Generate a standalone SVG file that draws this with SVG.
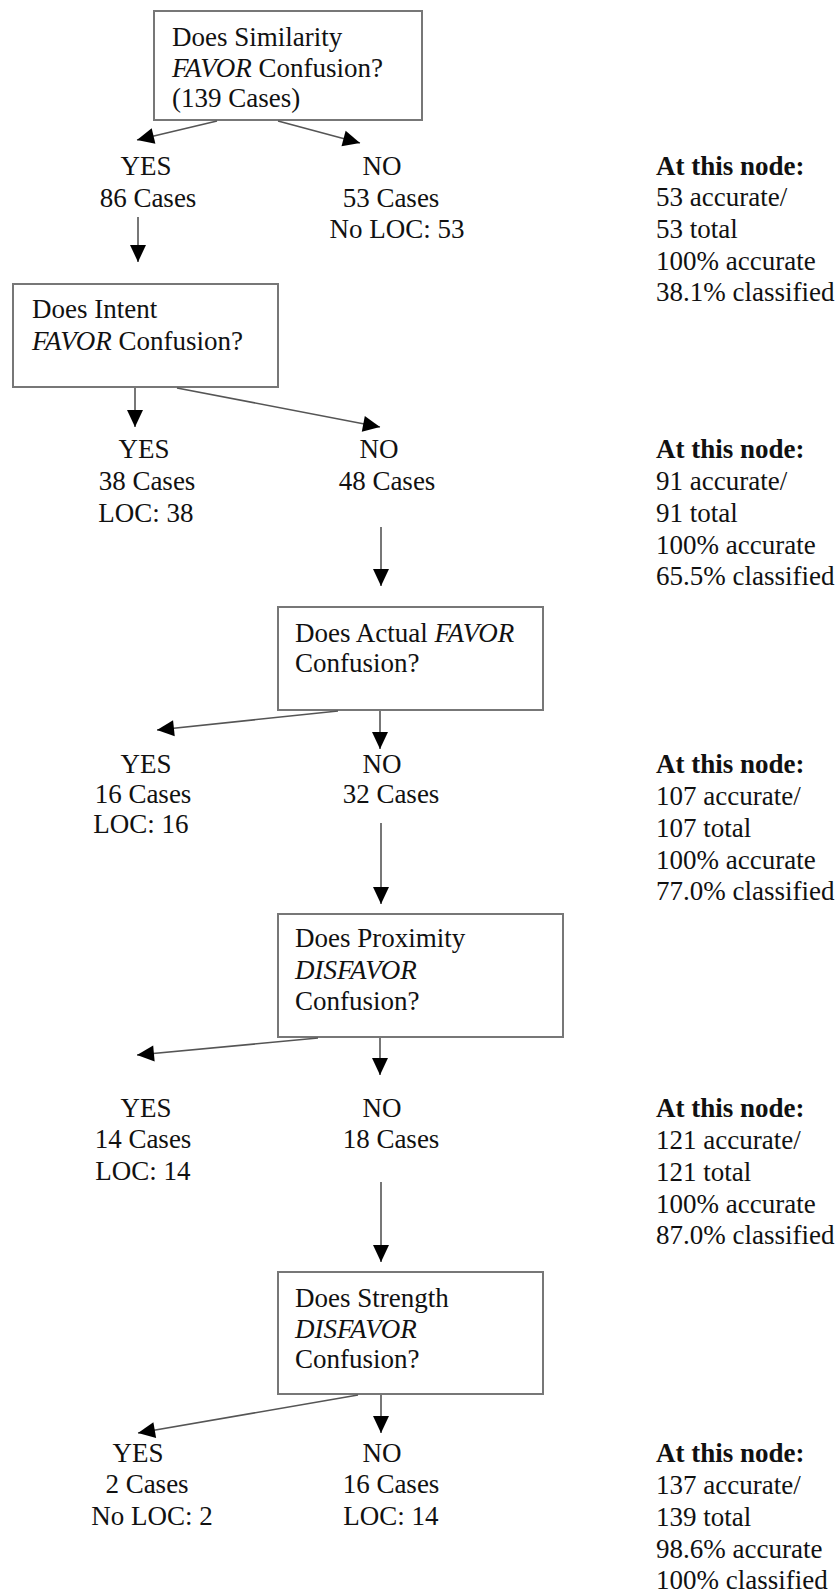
<svg xmlns="http://www.w3.org/2000/svg" width="837" height="1595" viewBox="0 0 837 1595">
  <style>
    text { font-family: "Liberation Serif", "Times New Roman", serif; font-size: 27px; fill: #111; }
    .c { text-anchor: middle; }
    .b { font-weight: bold; }
    .i { font-style: italic; }
    .box { fill: #fff; stroke: #777; stroke-width: 2; }
    .edge { stroke: #555; stroke-width: 1.6; fill: none; marker-end: url(#head); }
  </style>
  <defs>
    <marker id="head" markerUnits="userSpaceOnUse" markerWidth="20" markerHeight="20" viewBox="0 0 20 20" refX="18" refY="10" orient="auto">
      <path d="M1,2 L18,10 L1,18 Z" fill="#000"/>
    </marker>
  </defs>
  <rect width="837" height="1595" fill="#fff"/>

  <!-- decision boxes -->
  <g id="q-similarity">
    <rect class="box" x="154" y="11" width="268" height="109"/>
    <text x="172" y="46">Does Similarity</text>
    <text x="172" y="77"><tspan class="i">FAVOR</tspan> Confusion?</text>
    <text x="172" y="107">(139 Cases)</text>
  </g>
  <g id="q-intent">
    <rect class="box" x="13" y="284" width="265" height="103"/>
    <text x="32" y="318">Does Intent</text>
    <text x="32" y="350"><tspan class="i">FAVOR</tspan> Confusion?</text>
  </g>
  <g id="q-actual">
    <rect class="box" x="278" y="607" width="265" height="103"/>
    <text x="295" y="642">Does Actual <tspan class="i">FAVOR</tspan></text>
    <text x="295" y="672">Confusion?</text>
  </g>
  <g id="q-proximity">
    <rect class="box" x="278" y="914" width="285" height="123"/>
    <text x="295" y="947">Does Proximity</text>
    <text x="295" y="979" class="i">DISFAVOR</text>
    <text x="295" y="1010">Confusion?</text>
  </g>
  <g id="q-strength">
    <rect class="box" x="278" y="1272" width="265" height="122"/>
    <text x="295" y="1307">Does Strength</text>
    <text x="295" y="1338" class="i">DISFAVOR</text>
    <text x="295" y="1368">Confusion?</text>
  </g>

  <!-- outcome labels -->
  <g id="yes-1">
    <text class="c" x="146" y="175">YES</text>
    <text class="c" x="148" y="207">86 Cases</text>
  </g>
  <g id="no-1">
    <text class="c" x="382" y="175">NO</text>
    <text class="c" x="391" y="207">53 Cases</text>
    <text class="c" x="397" y="238">No LOC: 53</text>
  </g>
  <g id="yes-2">
    <text class="c" x="144" y="458">YES</text>
    <text class="c" x="147" y="490">38 Cases</text>
    <text class="c" x="146" y="522">LOC: 38</text>
  </g>
  <g id="no-2">
    <text class="c" x="379" y="458">NO</text>
    <text class="c" x="387" y="490">48 Cases</text>
  </g>
  <g id="yes-3">
    <text class="c" x="146" y="773">YES</text>
    <text class="c" x="143" y="803">16 Cases</text>
    <text class="c" x="141" y="833">LOC: 16</text>
  </g>
  <g id="no-3">
    <text class="c" x="382" y="773">NO</text>
    <text class="c" x="391" y="803">32 Cases</text>
  </g>
  <g id="yes-4">
    <text class="c" x="146" y="1117">YES</text>
    <text class="c" x="143" y="1148">14 Cases</text>
    <text class="c" x="143" y="1180">LOC: 14</text>
  </g>
  <g id="no-4">
    <text class="c" x="382" y="1117">NO</text>
    <text class="c" x="391" y="1148">18 Cases</text>
  </g>
  <g id="yes-5">
    <text class="c" x="138" y="1462">YES</text>
    <text class="c" x="147" y="1493">2 Cases</text>
    <text class="c" x="152" y="1525">No LOC: 2</text>
  </g>
  <g id="no-5">
    <text class="c" x="382" y="1462">NO</text>
    <text class="c" x="391" y="1493">16 Cases</text>
    <text class="c" x="391" y="1525">LOC: 14</text>
  </g>

  <!-- per-level accuracy summaries -->
  <g id="stats-1">
    <text x="656" y="175" class="b">At this node:</text>
    <text x="656" y="206">53 accurate/</text>
    <text x="656" y="238">53 total</text>
    <text x="656" y="270">100% accurate</text>
    <text x="656" y="301">38.1% classified</text>
  </g>
  <g id="stats-2">
    <text x="656" y="458" class="b">At this node:</text>
    <text x="656" y="490">91 accurate/</text>
    <text x="656" y="522">91 total</text>
    <text x="656" y="554">100% accurate</text>
    <text x="656" y="585">65.5% classified</text>
  </g>
  <g id="stats-3">
    <text x="656" y="773" class="b">At this node:</text>
    <text x="656" y="805">107 accurate/</text>
    <text x="656" y="837">107 total</text>
    <text x="656" y="869">100% accurate</text>
    <text x="656" y="900">77.0% classified</text>
  </g>
  <g id="stats-4">
    <text x="656" y="1117" class="b">At this node:</text>
    <text x="656" y="1149">121 accurate/</text>
    <text x="656" y="1181">121 total</text>
    <text x="656" y="1213">100% accurate</text>
    <text x="656" y="1244">87.0% classified</text>
  </g>
  <g id="stats-5">
    <text x="656" y="1462" class="b">At this node:</text>
    <text x="656" y="1494">137 accurate/</text>
    <text x="656" y="1526">139 total</text>
    <text x="656" y="1558">98.6% accurate</text>
    <text x="656" y="1589">100% classified</text>
  </g>

  <!-- connectors -->
  <g id="connectors">
    <line class="edge" x1="217" y1="121" x2="137" y2="140"/>
    <line class="edge" x1="278" y1="121" x2="360" y2="143"/>
    <line class="edge" x1="138" y1="217" x2="138" y2="262"/>
    <line class="edge" x1="135" y1="388" x2="135" y2="427"/>
    <line class="edge" x1="177" y1="388" x2="380" y2="427"/>
    <line class="edge" x1="381" y1="527" x2="381" y2="586"/>
    <line class="edge" x1="338" y1="711" x2="157" y2="730"/>
    <line class="edge" x1="380" y1="711" x2="380" y2="749"/>
    <line class="edge" x1="381" y1="823" x2="381" y2="904"/>
    <line class="edge" x1="318" y1="1038" x2="137" y2="1055"/>
    <line class="edge" x1="380" y1="1038" x2="380" y2="1075"/>
    <line class="edge" x1="381" y1="1182" x2="381" y2="1262"/>
    <line class="edge" x1="358" y1="1395" x2="138" y2="1433"/>
    <line class="edge" x1="381" y1="1395" x2="381" y2="1433"/>
  </g>
</svg>
